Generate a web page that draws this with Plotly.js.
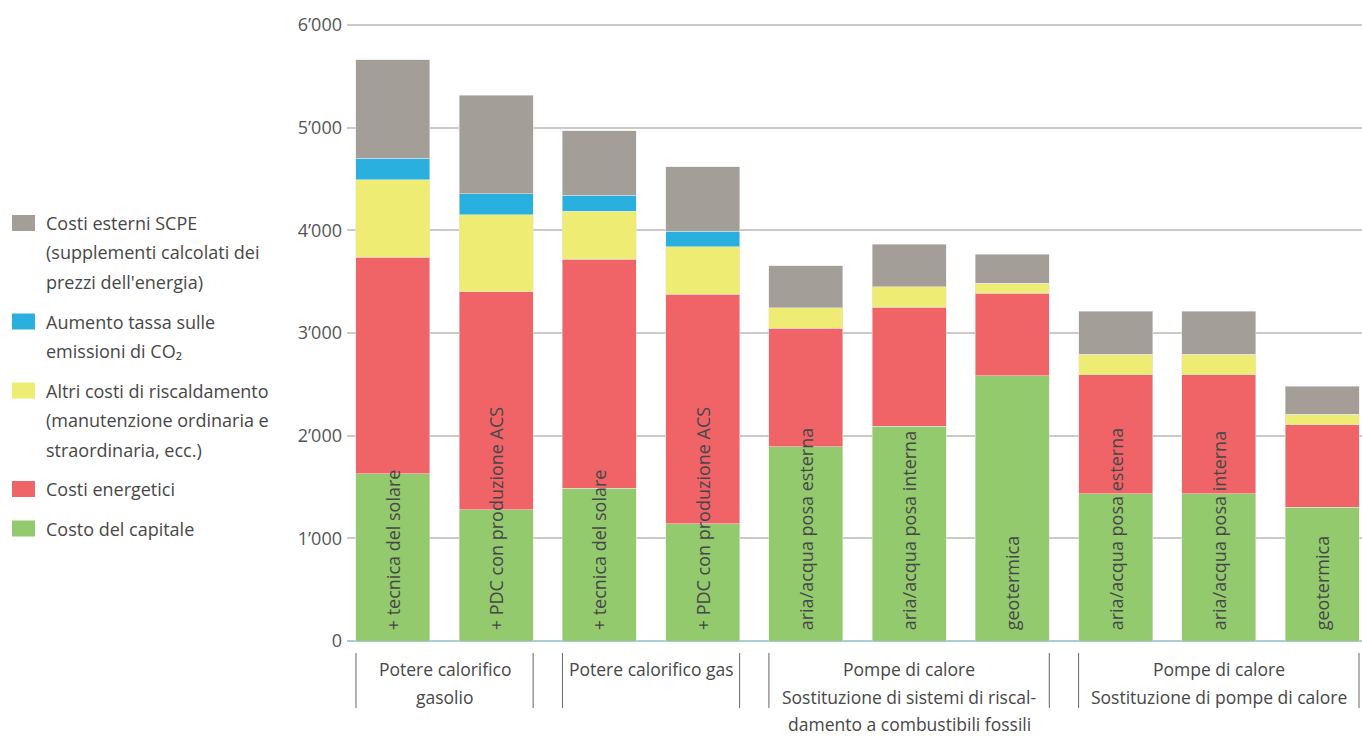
<!DOCTYPE html>
<html><head><meta charset="utf-8">
<script src="https://cdn.plot.ly/plotly-3.0.1.min.js"></script>
<style>html,body{margin:0;padding:0;background:#fff}#chart{width:1362px;height:737px}</style>
</head><body><div id="chart"></div>
<script>
// ---- data ----
const barLabels = ['+ tecnica del solare','+ PDC con produzione ACS','+ tecnica del solare','+ PDC con produzione ACS','aria/acqua posa esterna','aria/acqua posa interna','geotermica','aria/acqua posa esterna','aria/acqua posa interna','geotermica'];
const costoCapitale   = [1630,1280,1490,1140,1890,2090,2585,1435,1435,1305];
const costiEnergetici = [2110,2120,2230,2235,1155,1160, 800,1160,1160, 800];
const altriCosti      = [ 755, 750, 465, 465, 200, 200, 100, 200, 200, 105];
const tassaCO2        = [ 205, 205, 155, 150,   0,   0,   0,   0,   0,   0];
const costiEsterni    = [ 960, 960, 630, 630, 410, 415, 280, 415, 415, 270];
const seriesNames = ['Costo del capitale','Costi energetici','Altri costi di riscaldamento (manutenzione ordinaria e straordinaria, ecc.)','Aumento tassa sulle emissioni di CO₂','Costi esterni SCPE (supplementi calcolati dei prezzi dell\'energia)'];
const seriesColors = ['#92ca6d','#f06467','#efec73','#29b0de','#a39e97'];
const legendLines = [
  ['Costi esterni SCPE','(supplementi calcolati dei','prezzi dell\'energia)'],
  ['Aumento tassa sulle','emissioni di CO₂'],
  ['Altri costi di riscaldamento','(manutenzione ordinaria e','straordinaria, ecc.)'],
  ['Costi energetici'],
  ['Costo del capitale']
];
const legendColors = ['#a39e97','#29b0de','#efec73','#f06467','#92ca6d'];
const groupLabels = [
  ['Potere calorifico','gasolio'],
  ['Potere calorifico gas'],
  ['Pompe di calore','Sostituzione di sistemi di riscal-','damento a combustibili fossili'],
  ['Pompe di calore','Sostituzione di pompe di calore']
];
const groupRanges = [[0,1],[2,3],[4,6],[7,9]];
const yTickVals = [0,1000,2000,3000,4000,5000,6000];
const yTickText = ['0','1’000','2’000','3’000','4’000','5’000','6’000'];

// ---- layout helpers ----
const W = 1362, H = 737, M = {l:347, r:0, t:22, b:96};
const PW = W - M.l - M.r, PH = H - M.t - M.b;
const xp = px => (px - M.l) / PW;
const yp = py => (H - M.b - py) / PH;
const FONT = 'Open Sans, Noto Sans, sans-serif';
const TXT = '#474747';
const FS = 18;
const bargap = 0.284;
const half = (1 - bargap) / 2;
const idx = barLabels.map((_, i) => i);
const yTop = 6029;

const values = [costoCapitale, costiEnergetici, altriCosti, tassaCO2, costiEsterni];
const traces = values.map((v, k) => ({
  type: 'bar', x: idx, y: v, name: seriesNames[k],
  marker: {color: seriesColors[k], line: {width: 0.6, color: 'rgba(230,230,230,0.9)'}},
  showlegend: false, hovertemplate: '%{y}<extra>' + seriesNames[k] + '</extra>'
}));
// text overlay (drawn above all stacks)
traces.push({
  type: 'bar', x: idx, y: costoCapitale, base: 75, xaxis: 'x2', yaxis: 'y2',
  marker: {color: 'rgba(0,0,0,0)'}, text: barLabels, textposition: 'inside',
  insidetextanchor: 'start', textangle: -90, constraintext: 'none',
  insidetextfont: {family: FONT, size: FS, color: TXT},
  hoverinfo: 'skip', showlegend: false
});

const annotations = [];
const shapes = [];
// legend
let ly = 223;
legendLines.forEach((lines, k) => {
  shapes.push({type: 'rect', xref: 'paper', yref: 'paper', x0: xp(12), x1: xp(35), y0: yp(ly - 8), y1: yp(ly + 8), fillcolor: legendColors[k], line: {width: 0}});
  lines.forEach((t, j) => {
    annotations.push({xref: 'paper', yref: 'paper', x: xp(44), y: yp(ly + j * 29.5), text: t, showarrow: false, xanchor: 'left', yanchor: 'middle', font: {family: FONT, size: FS, color: TXT}});
  });
  ly = ly + (lines.length - 1) * 29.5 + 39.5;
});
// group labels and separators
groupRanges.forEach((r, g) => {
  const xc = (r[0] + r[1]) / 2;
  groupLabels[g].forEach((t, j) => {
    annotations.push({xref: 'x', yref: 'paper', x: xc, y: yp(669 + j * 27.5), text: t, showarrow: false, xanchor: 'center', yanchor: 'middle', borderpad: 0, font: {family: FONT, size: 17.5, color: TXT}});
  });
  [r[0] - half, r[1] + half].forEach(xv => {
    shapes.push({type: 'line', xref: 'x', yref: 'paper', x0: xv, x1: xv, y0: yp(653), y1: yp(708), line: {color: '#666', width: 1}});
  });
});

const xr = [-0.445, 9.387];
const layout = {
  width: W, height: H, margin: M, paper_bgcolor: '#fff', plot_bgcolor: '#fff',
  barmode: 'stack', bargap: bargap, showlegend: false,
  font: {family: FONT, size: FS, color: TXT},
  xaxis: {range: xr, showticklabels: false, showgrid: false, zeroline: false, showline: false, ticks: '', fixedrange: true},
  xaxis2: {range: xr, overlaying: 'x', visible: false, fixedrange: true},
  yaxis: {range: [0, yTop], tickvals: yTickVals, ticktext: yTickText, showgrid: true, gridcolor: '#cdc9c5', gridwidth: 1.5,
          zeroline: true, zerolinecolor: '#a9cdd6', zerolinewidth: 1.5, ticks: '', showline: false, ticklabelstandoff: 4,
          tickfont: {family: FONT, size: FS, color: '#555'}, fixedrange: true},
  yaxis2: {range: [0, yTop], overlaying: 'y', visible: false, fixedrange: true},
  annotations: annotations, shapes: shapes
};
Plotly.newPlot('chart', traces, layout, {displayModeBar: false});
</script></body></html>
